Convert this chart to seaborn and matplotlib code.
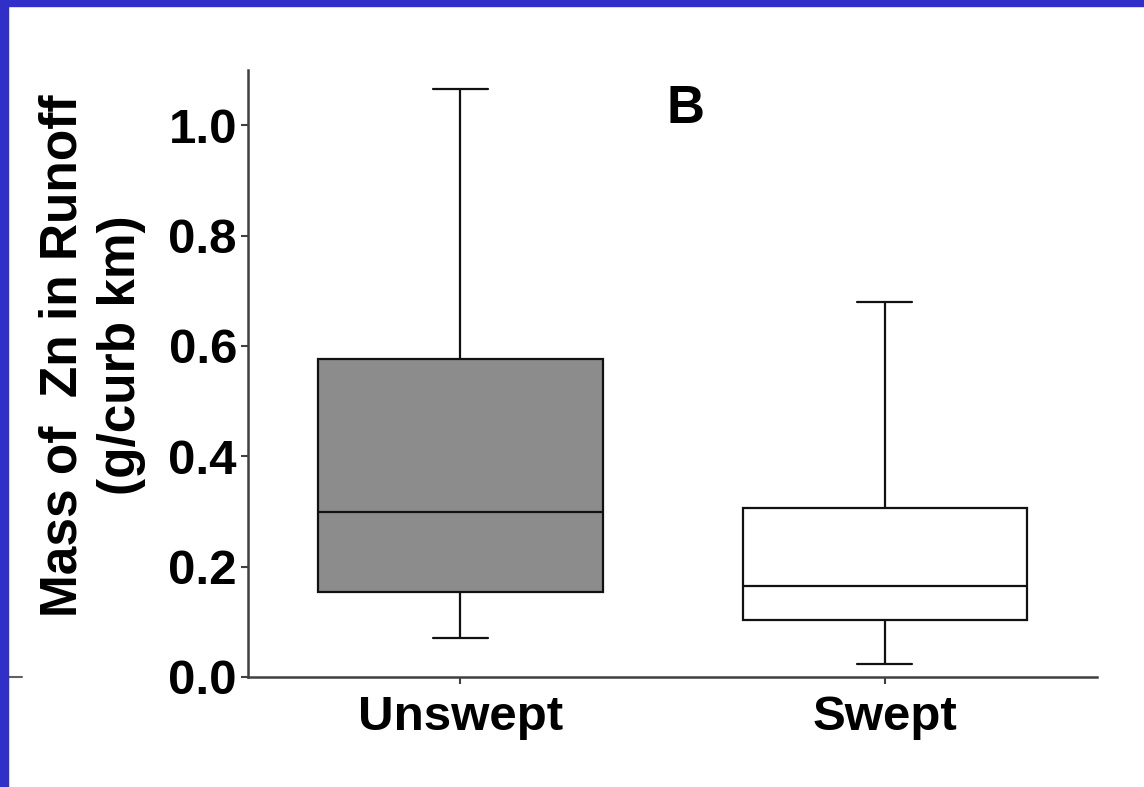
import numpy as np
import pandas as pd
import seaborn as sns
import matplotlib.pyplot as plt
from matplotlib.lines import Line2D
from matplotlib.patches import Rectangle

# five-number summaries (min, q1, median, q3, max)
groups = ['Unswept', 'Swept']
unswept = [0.071, 0.154, 0.299, 0.576, 1.065]
swept = [0.024, 0.103, 0.165, 0.306, 0.679]
box_colors = ['#8c8c8c', '#ffffff']
yticks = [0.0, 0.2, 0.4, 0.6, 0.8, 1.0]

df = pd.DataFrame({
    'group': [groups[0]] * len(unswept) + [groups[1]] * len(swept),
    'mass': unswept + swept,
})

sns.set_theme(style='ticks')
plt.rcParams['font.family'] = ['Liberation Sans', 'DejaVu Sans']
plt.rcParams['font.weight'] = 'bold'
plt.rcParams['text.color'] = 'black'
plt.rcParams['axes.labelcolor'] = 'black'
plt.rcParams['xtick.labelcolor'] = 'black'
plt.rcParams['ytick.labelcolor'] = 'black'

fig = plt.figure(figsize=(11.44, 7.87), dpi=100)
ax = fig.add_axes([0.2168, 0.1398, 0.9590 - 0.2168, 0.911 - 0.1398])

sns.boxplot(data=df, x='group', y='mass', hue='group', order=groups,
            palette=box_colors, saturation=1, whis=(0, 100), width=0.67,
            linecolor='#111111', linewidth=1.6, legend=False,
            capwidths=0.13, showfliers=False, ax=ax)

ax.set_xlim(-0.5, 1.5)
ax.set_ylim(0, 1.1)
ax.set_yticks(yticks)
ax.set_yticklabels([f'{t:.1f}' for t in yticks])
ax.tick_params(axis='both', labelsize=35.5, width=1.5, length=5, color='#404040')
ax.tick_params(axis='x', pad=8)
ax.tick_params(axis='y', pad=3)
for lab in ax.get_xticklabels() + ax.get_yticklabels():
    lab.set_fontweight('bold')

sns.despine(ax=ax)
for side in ['left', 'bottom']:
    ax.spines[side].set_color('#404040')
    ax.spines[side].set_linewidth(1.8)

ax.set_xlabel('')
ax.set_ylabel('Mass of  Zn in Runoff\n(g/curb km)', fontsize=37,
              fontweight='bold', linespacing=1.25)
ax.yaxis.set_label_coords(-0.12, 0.53)

ax.text(0.53, 1.03, 'B', fontsize=38, fontweight='bold',
        ha='center', va='center', transform=ax.transData)

# slide frame
fig.patches.append(Rectangle((0, 1 - 6 / 787), 1, 6 / 787, transform=fig.transFigure,
                             color='#3030c8', zorder=10))
fig.patches.append(Rectangle((0, 0), 8 / 1144, 1, transform=fig.transFigure,
                             color='#3030c8', zorder=10))
fig.add_artist(Line2D([8 / 1144, 22 / 1144], [0.1398, 0.1398], transform=fig.transFigure,
                      color='#606060', lw=1.5))

fig.savefig('out.png', dpi=100)
